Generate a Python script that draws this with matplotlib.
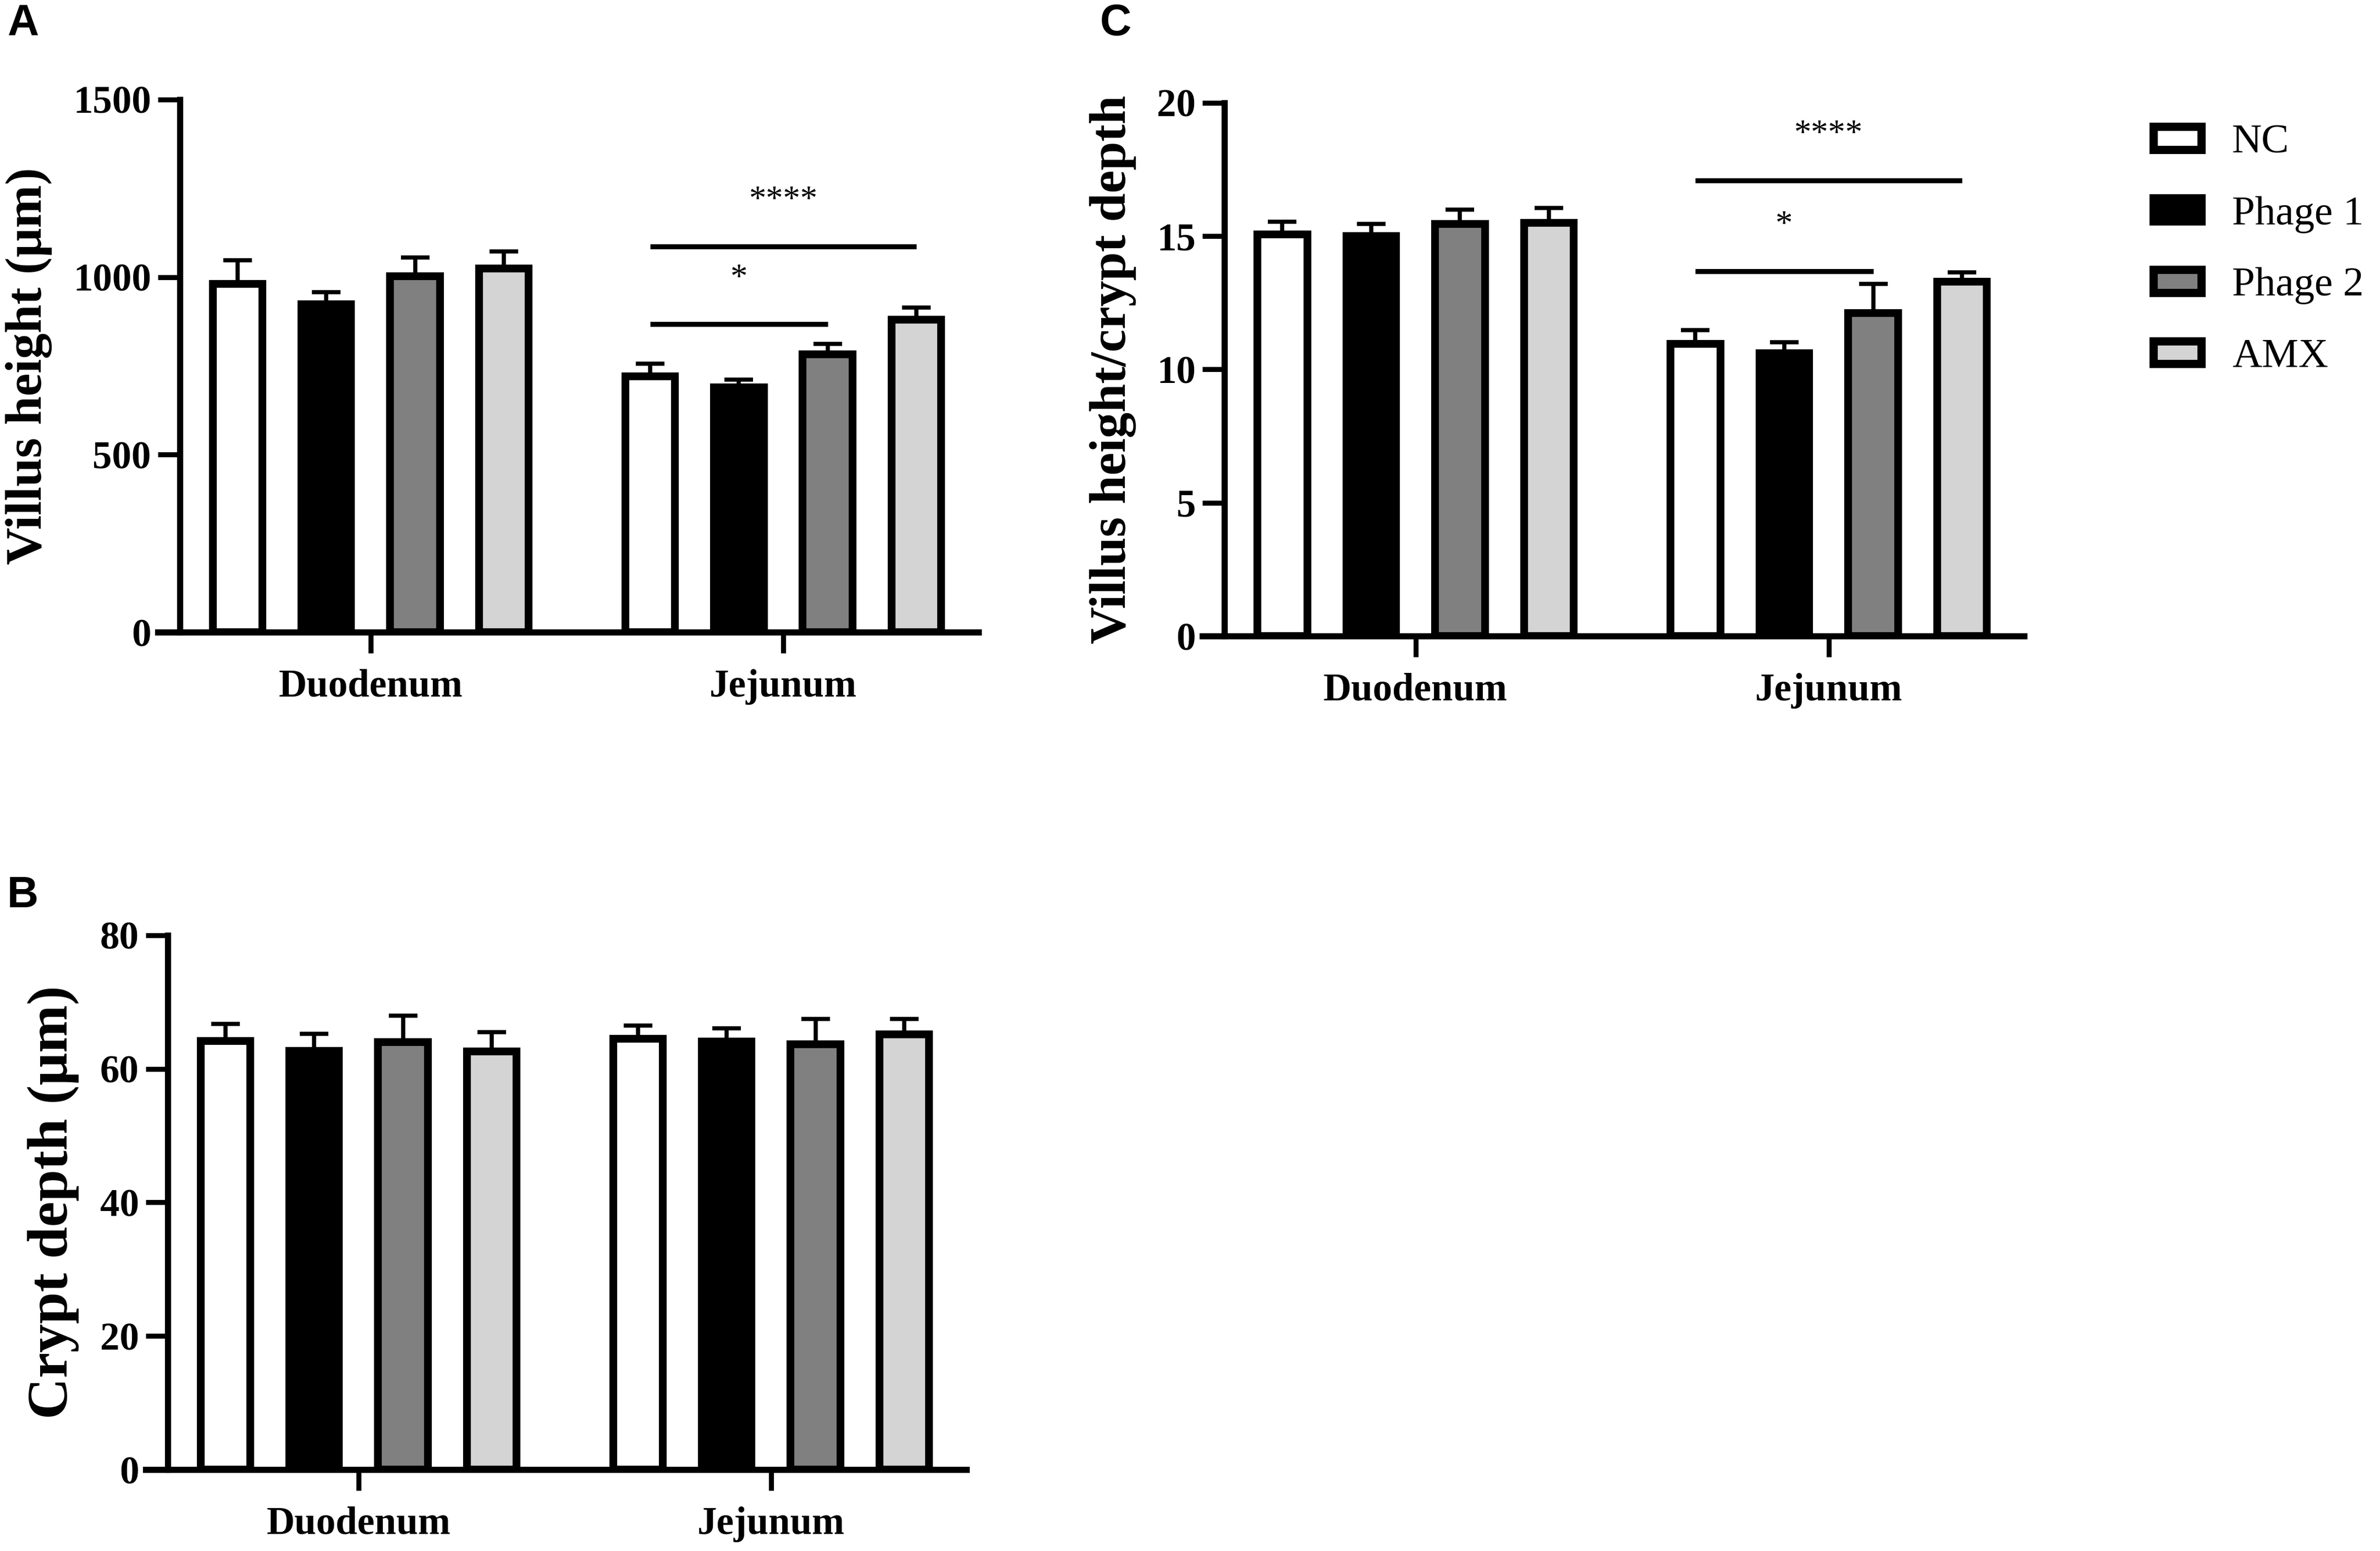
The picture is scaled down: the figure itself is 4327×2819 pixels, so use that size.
import numpy as np
import matplotlib
matplotlib.use('Agg')
import matplotlib.pyplot as plt
from matplotlib.patches import Patch

plt.rcParams['font.family'] = 'Liberation Serif'
plt.rcParams['font.weight'] = 'bold'

groups = ['NC', 'Phage 1', 'Phage 2', 'AMX']
colors = ['white', 'black', '#808080', '#d4d4d4']
sites = ['Duodenum', 'Jejunum']

# A: villus height (um); one row per group, columns = sites
villus_mean = [[981, 720], [924, 689], [1003, 783], [1025, 880]]
villus_err = [[66, 36], [33, 22], [52, 29], [47, 35]]

# B: crypt depth (um)
crypt_mean = [[64.2, 64.5], [62.7, 64.1], [64.0, 63.7], [62.6, 65.2]]
crypt_err = [[2.55, 1.95], [2.55, 1.95], [3.95, 3.75], [2.85, 2.25]]

# C: villus height / crypt depth
ratio_mean = [[15.07, 10.95], [15.0, 10.6], [15.45, 12.12], [15.5, 13.3]]
ratio_err = [[0.48, 0.53], [0.45, 0.42], [0.55, 1.08], [0.55, 0.35]]

# significance brackets in the jejunum group: (from group, to group, y, label)
villus_sig = [(0, 2, 867, '*'), (0, 3, 1087, '****')]
ratio_sig = [(0, 2, 13.68, '*'), (0, 3, 17.09, '****')]

group_gap = 4.65
bar_w = 0.56


def draw_panel(ax, means, errs, ylabel, yticks, ylab_size, sig=None):
    centers = np.arange(len(sites)) * group_gap
    for i in range(len(groups)):
        x = centers + (i - 1.5)
        m = np.array(means[i])
        e = np.array(errs[i])
        ax.errorbar(x, m, yerr=[np.zeros_like(e), e], fmt='none', ecolor='black',
                    elinewidth=1.8, capsize=6.3, capthick=1.8, zorder=1)
        ax.bar(x, m, width=bar_w, color=colors[i], edgecolor='black',
               linewidth=3.4, zorder=2)
    if sig:
        for a, b, y, txt in sig:
            x1 = centers[1] + (a - 1.5)
            x2 = centers[1] + (b - 1.5)
            ax.plot([x1, x2], [y, y], color='black', lw=2.2, solid_capstyle='butt')
            ax.annotate(txt, xy=((x1 + x2) / 2, y), xytext=(0, 16),
                        textcoords='offset points', ha='center', va='baseline',
                        fontsize=15, fontweight='normal')
    ax.set_xlim(-2.4, 6.85)
    ax.set_ylim(yticks[0], yticks[-1])
    ax.set_yticks(yticks)
    ax.set_xticks(centers)
    ax.set_xticklabels(sites, fontsize=17, fontweight='bold')
    ax.tick_params(axis='y', labelsize=17, length=9.5, width=2.2, pad=3)
    ax.tick_params(axis='x', length=9, width=2.2, pad=7)
    for s in ['top', 'right']:
        ax.spines[s].set_visible(False)
    for s in ['left', 'bottom']:
        ax.spines[s].set_linewidth(2.7)
    ax.spines['left'].set_position(('axes', 0.0268))
    ax.set_ylabel(ylabel, fontsize=ylab_size, fontweight='bold', labelpad=9)


fig = plt.figure(figsize=(4327 / 300, 2819 / 300), dpi=300)

axA = fig.add_axes([0.0663, 0.5924, 0.3448, 0.3434])
draw_panel(axA, villus_mean, villus_err, 'Villus height (μm)', [0, 500, 1000, 1500], 22.5, villus_sig)

axB = fig.add_axes([0.0612, 0.0525, 0.3448, 0.3445])
draw_panel(axB, crypt_mean, crypt_err, 'Crypt depth (μm)', [0, 20, 40, 60, 80], 25)

axC = fig.add_axes([0.5052, 0.5899, 0.3453, 0.3438])
draw_panel(axC, ratio_mean, ratio_err, 'Villus height/crypt depth', [0, 5, 10, 15, 20], 22.5, ratio_sig)

handles = [Patch(facecolor=c, edgecolor='black', linewidth=3.6) for c in colors]
fig.legend(handles, groups, loc='upper left', bbox_to_anchor=(0.8962, 0.933),
           frameon=False, borderpad=0, handlelength=1.15, handleheight=0.48,
           handletextpad=0.75, labelspacing=0.83,
           prop={'family': 'Liberation Serif', 'weight': 'normal', 'size': 18})

for letter, x, y in [('A', 0.003, 0.9773), ('C', 0.4622, 0.9773), ('B', 0.003, 0.415)]:
    fig.text(x, y, letter, fontsize=19, fontweight='bold', family='Liberation Sans',
             va='baseline', ha='left')

fig.savefig('out.png', dpi=300)
